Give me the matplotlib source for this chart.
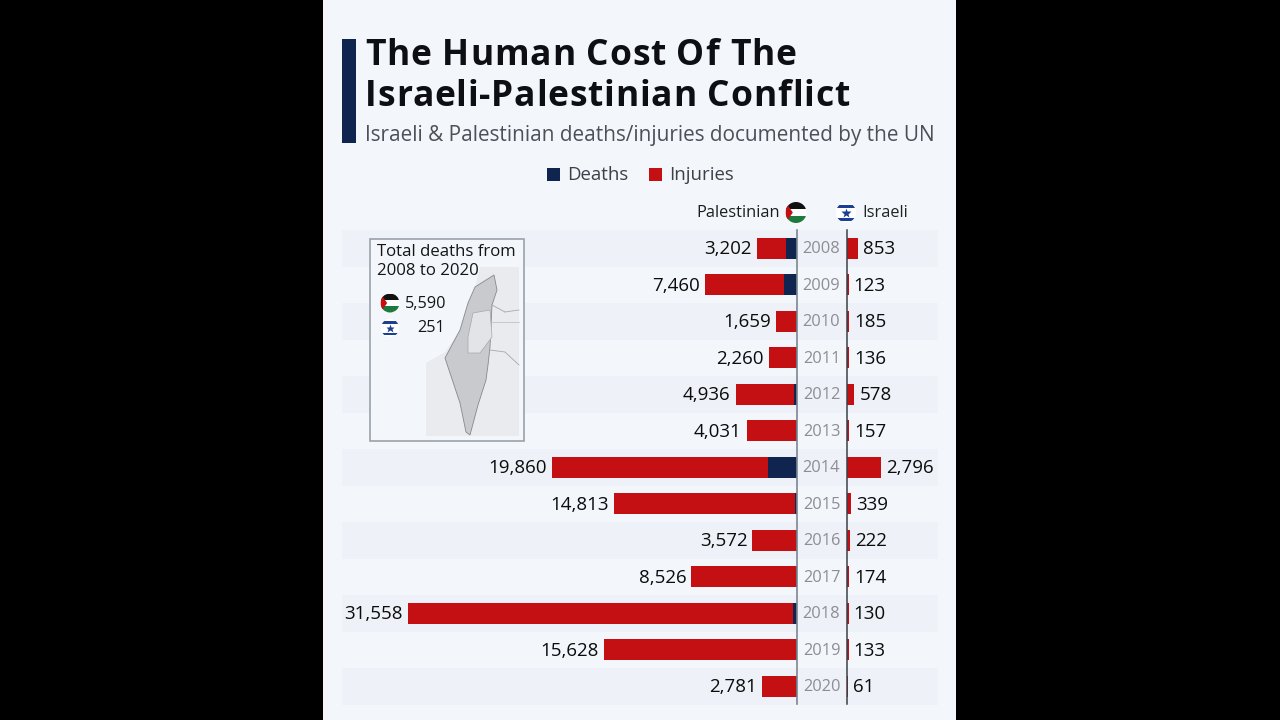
import matplotlib
matplotlib.use("Agg")
import matplotlib.pyplot as plt
from matplotlib.patches import Rectangle, Circle, Polygon

years = [2008, 2009, 2010, 2011, 2012, 2013, 2014, 2015, 2016, 2017, 2018, 2019, 2020]
pal_total = [3202, 7460, 1659, 2260, 4936, 4031, 19860, 14813, 3572, 8526, 31558, 15628, 2781]
pal_deaths = [887, 1034, 60, 60, 200, 30, 2329, 100, 40, 30, 299, 30, 20]
isr_total = [853, 123, 185, 136, 578, 157, 2796, 339, 222, 174, 130, 133, 61]

title_lines = ["The Human Cost Of The", "Israeli-Palestinian Conflict"]
subtitle = "Israeli & Palestinian deaths/injuries documented by the UN"

NAVY = "#0f2550"
RED = "#c40f13"
BG = "#f3f7fc"
BAND = "#eef1f7"
W, H = 1280, 720
PX_PER_UNIT = 389 / 31558
ROW_TOP, ROW_H = 230, 36.5

plt.rcParams["font.family"] = ["Open Sans", "DejaVu Sans"]

fig = plt.figure(figsize=(W / 100, H / 100), dpi=100, facecolor="black")

# pixel coordinate layer for the panel, bands, text and flags
bg = fig.add_axes([0, 0, 1, 1], zorder=0)
bg.set_xlim(0, W)
bg.set_ylim(H, 0)
bg.axis("off")
bg.add_patch(Rectangle((323, 0), 633, H, fc=BG, ec="none"))
for i in range(0, len(years), 2):
    bg.add_patch(Rectangle((342, ROW_TOP + i * ROW_H), 596, ROW_H, fc=BAND, ec="none"))


def bar_axes(x0, x1, inverted=False):
    a = fig.add_axes([x0 / W, 1 - (ROW_TOP + ROW_H * len(years)) / H,
                      (x1 - x0) / W, ROW_H * len(years) / H], zorder=1)
    span = (x1 - x0) / PX_PER_UNIT
    a.set_xlim((span, 0) if inverted else (0, span))
    a.set_ylim(len(years) - 0.5, -0.5)
    a.axis("off")
    return a


left = bar_axes(342, 796.5, inverted=True)
right = bar_axes(847, 940)

ypos = list(range(len(years)))
left.barh(ypos, pal_total, height=0.58, color=RED)
left.barh(ypos, pal_deaths, height=0.58, color=NAVY)
right.barh(ypos, isr_total, height=0.58, color=RED)

for y, v in zip(ypos, pal_total):
    left.annotate(f"{v:,}", (v, y), xytext=(-3.7, -0.7), textcoords="offset points",
                  ha="right", va="center", fontsize=13.5, color="#0c0c0c")
for y, v in zip(ypos, isr_total):
    right.annotate(f"{v:,}", (v, y), xytext=(3.7, -0.7), textcoords="offset points",
                   ha="left", va="center", fontsize=13.5, color="#0c0c0c")

top = fig.add_axes([0, 0, 1, 1], zorder=2)
top.set_xlim(0, W)
top.set_ylim(H, 0)
top.axis("off")
top.patch.set_alpha(0)

# axis lines and years
top.plot([796.5, 796.5], [230, 704], color="#7d8590", lw=1.2)
top.plot([847, 847], [230, 704], color="#3c4048", lw=1.1)
for i, yr in enumerate(years):
    top.text(821.5, ROW_TOP + (i + 0.5) * ROW_H + 1, str(yr), ha="center", va="center",
             fontsize=11.8, color="#8b8e94")


def tracked_text(x, y, s, tracking, **kw):
    # matplotlib has no letter spacing, so place the title one glyph at a time
    renderer = fig.canvas.get_renderer()
    for n, ch in enumerate(s):
        probe = top.text(0, 0, s[:n] + "|", **kw)
        bar = top.text(0, 0, "|", **kw)
        adv = probe.get_window_extent(renderer).width - bar.get_window_extent(renderer).width
        probe.remove()
        bar.remove()
        top.text(x + adv + n * tracking, y, ch, **kw)


# title block
top.add_patch(Rectangle((342, 39), 14, 104, fc=NAVY, ec="none"))
title_kw = dict(fontsize=25.5, fontweight="bold", color="#0d0f14", va="baseline")
tracked_text(365, 65, title_lines[0], 0.8, **title_kw)
tracked_text(365, 106, title_lines[1], 0.8, **title_kw)
top.text(365, 136, subtitle, fontsize=14.95, color="#4c5058", va="center")

# legend
top.add_patch(Rectangle((547, 168), 13, 13, fc=NAVY, ec="none"))
top.text(567, 175.5, "Deaths", fontsize=13.4, color="#3c4048", va="center")
top.add_patch(Rectangle((649, 168), 13, 13, fc=RED, ec="none"))
top.text(669, 175.5, "Injuries", fontsize=13.4, color="#3c4048", va="center")


def pal_flag(cx, cy, r):
    clip = Circle((cx, cy), r, transform=top.transData)
    for k, col in enumerate(["#111111", "#ffffff", "#1e7a3c"]):
        p = Rectangle((cx - r, cy - r + k * 2 * r / 3), 2 * r, 2 * r / 3, fc=col, ec="none")
        top.add_patch(p)
        p.set_clip_path(clip)
    t = Polygon([(cx - r, cy - r), (cx - r * 0.3, cy), (cx - r, cy + r)], fc=RED, ec="none")
    top.add_patch(t)
    t.set_clip_path(clip)


def isr_flag(cx, cy, r):
    clip = Circle((cx, cy), r, transform=top.transData)
    white = Rectangle((cx - r, cy - r), 2 * r, 2 * r, fc="#ffffff", ec="none")
    top.add_patch(white)
    white.set_clip_path(clip)
    for yy in (cy - r * 0.8, cy + r * 0.5):
        p = Rectangle((cx - r, yy), 2 * r, r * 0.3, fc="#1c3f94", ec="none")
        top.add_patch(p)
        p.set_clip_path(clip)
    top.plot([cx], [cy], marker="*", ms=r * 0.7, mfc="#1c3f94", mec="none")


# column headers
top.text(779.5, 213, "Palestinian", ha="right", va="center", fontsize=11.8, fontweight="medium", color="#1c1c1c")
pal_flag(796, 212.5, 10.5)
isr_flag(846, 212.5, 10)
top.text(862, 213, "Israeli", ha="left", va="center", fontsize=11.8, color="#222222")

# inset box with the map
top.add_patch(Rectangle((370, 239), 154, 202, fc=BG, ec="#9aa1a8", lw=1.2))
top.add_patch(Polygon([(426, 363), (445, 352), (468, 318), (480, 267), (519, 267), (519, 436), (426, 436)],
                      fc="#e9ebef", ec="none"))
israel = [(475, 287), (494, 275), (497, 290), (492, 305), (490, 347), (488, 365), (486, 380),
          (478, 405), (470, 435), (466, 432), (460, 403), (445, 358), (460, 330), (468, 303)]
top.add_patch(Polygon(israel, fc="#c8cacd", ec="#85888d", lw=0.6))
westbank = [(473, 313), (490, 310), (492, 337), (480, 353), (468, 353), (468, 337)]
top.add_patch(Polygon(westbank, fc="#e2e4e7", ec="#a5a8ad", lw=0.5))
top.plot([492, 505], [305, 312], color="#a5a8ad", lw=0.6)
top.plot([505, 519], [312, 310], color="#a5a8ad", lw=0.6)
top.plot([491, 519], [322, 322], color="#c0c3c7", lw=0.6)
top.plot([490, 505, 519], [350, 352, 365], color="#a5a8ad", lw=0.6)
top.text(377, 252.5, "Total deaths from", fontsize=12.1, fontweight="medium", color="#151515", va="center")
top.text(377, 271, "2008 to 2020", fontsize=12.1, fontweight="medium", color="#151515", va="center")
pal_flag(390, 303, 9.5)
isr_flag(390, 328, 9)
top.text(405, 303.5, "5,590", fontsize=11.7, color="#151515", va="center")
top.text(445.5, 328.5, "251", fontsize=11.7, color="#151515", va="center", ha="right")

fig.savefig("out.png", dpi=100, facecolor="black")
